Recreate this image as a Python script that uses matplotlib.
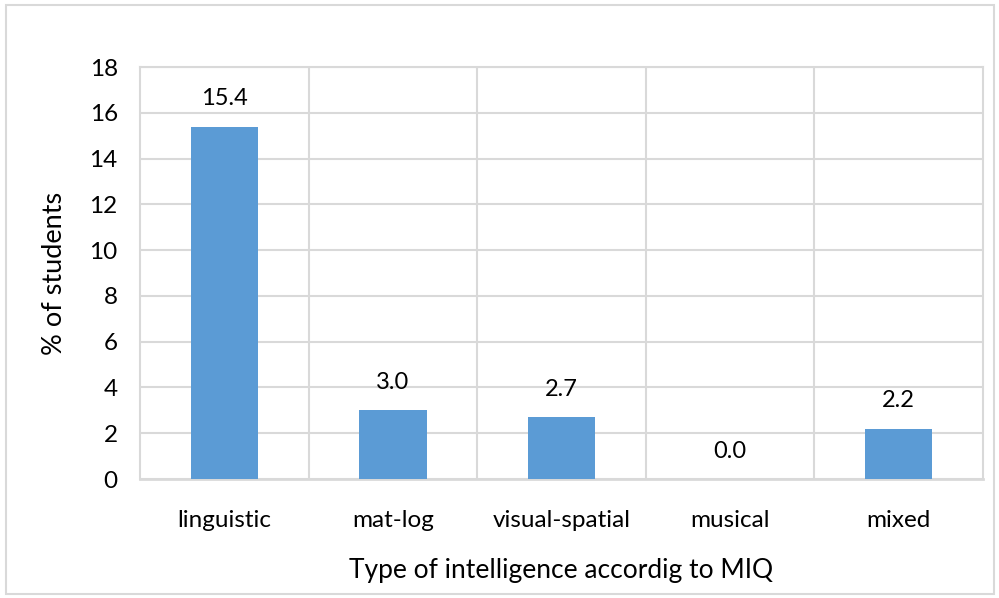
import matplotlib.pyplot as plt
from matplotlib.patches import Rectangle

categories = ['linguistic', 'mat-log', 'visual-spatial', 'musical', 'mixed']
values = [15.4, 3.0, 2.7, 0.0, 2.2]
y_ticks = [0, 2, 4, 6, 8, 10, 12, 14, 16, 18]

plt.rcParams['font.family'] = ['Lato', 'DejaVu Sans']

fig = plt.figure(figsize=(9.99, 5.98), dpi=100)
ax = fig.add_axes([140 / 999, 1 - 479 / 598, 843 / 999, 412 / 598])

# outer chart border like the spreadsheet frame
fig.patches.append(Rectangle((6 / 999, 4 / 598), 988 / 999, 589 / 598,
                             transform=fig.transFigure, fill=False,
                             edgecolor='#d9d9d9', linewidth=1.5))

x = list(range(len(categories)))
bars = ax.bar(x, values, width=0.4, color='#5b9bd5', zorder=3)
for xi, v in zip(x, values):
    ax.text(xi, v + 0.75, f'{v:.1f}', ha='center', va='bottom', fontsize=17, color='#000000')

ax.set_xlim(-0.5, len(categories) - 0.5)
ax.set_ylim(0, 18)
ax.set_yticks(y_ticks)
ax.set_xticks(x)
ax.set_xticklabels(categories)
ax.tick_params(axis='both', length=0, labelsize=17.5, colors='#000000')
ax.tick_params(axis='x', pad=22)
ax.tick_params(axis='y', pad=16)

# grid: horizontal at ticks, vertical between categories
ax.yaxis.grid(True, color='#d9d9d9', linewidth=1.5, zorder=0)
for b in [i + 0.5 for i in x[:-1]]:
    ax.axvline(b, color='#d9d9d9', linewidth=1.5, zorder=0)
for s in ax.spines.values():
    s.set_color('#d9d9d9')
    s.set_linewidth(1.5)
ax.spines['bottom'].set_linewidth(2)

ax.set_ylabel('% of students', fontsize=19.5, labelpad=16)
ax.set_xlabel('Type of intelligence accordig to MIQ', fontsize=19, labelpad=20)

fig.savefig('out.png', dpi=100)
